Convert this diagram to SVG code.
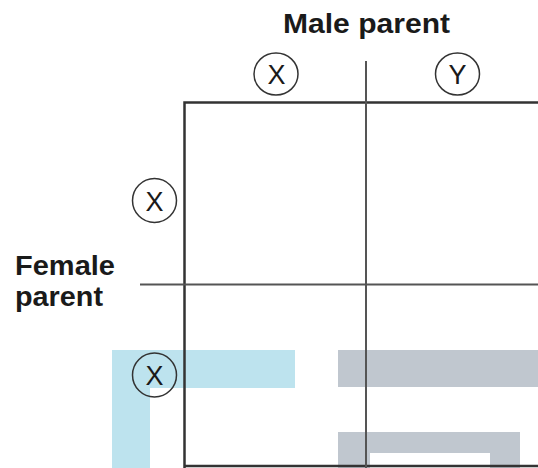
<svg xmlns="http://www.w3.org/2000/svg" width="538" height="468" viewBox="0 0 538 468">
<style>
.lbl{font-family:"Liberation Sans",Arial,sans-serif;font-weight:bold;font-size:27px;fill:#1a1a1a}
.al{font-family:"Liberation Sans",Arial,sans-serif;font-size:27px;fill:#1a1a1a;text-anchor:middle}
.ring{fill:none;stroke:#333;stroke-width:1.5}
.grid{stroke:#333;stroke-width:2.5;fill:none}
.thin{stroke:#555;stroke-width:2;fill:none}
</style>
<rect width="538" height="468" fill="#fff"/>
<g id="bands">
<path d="M112 350H295V388H150V468H112Z" fill="#bde3ee"/>
<rect x="338" y="350" width="200" height="37" fill="#c0c7cf"/>
<path d="M338 432H520V468H490V453H370V468H338Z" fill="#c0c7cf"/>
</g>
<g id="connectors">
<path class="grid" d="M184.5 468V102.5H538"/>
<line class="grid" x1="184" y1="466" x2="538" y2="466"/>
<line class="thin" x1="366" y1="61" x2="366" y2="468"/>
<line class="thin" x1="140" y1="284.5" x2="538" y2="284.5"/>
</g>
<g id="male-label"><text class="lbl" x="283" y="33" textLength="167" lengthAdjust="spacingAndGlyphs">Male parent</text></g>
<g id="female-label">
<text class="lbl" x="15" y="275" textLength="100" lengthAdjust="spacingAndGlyphs">Female</text>
<text class="lbl" x="15" y="306" textLength="88" lengthAdjust="spacingAndGlyphs">parent</text>
</g>
<g id="male-x"><ellipse class="ring" cx="276" cy="74" rx="22" ry="21"/><text class="al" x="276.5" y="84">X</text></g>
<g id="male-y"><ellipse class="ring" cx="457.5" cy="74" rx="22" ry="21"/><text class="al" x="457.5" y="84">Y</text></g>
<g id="female-x1"><ellipse class="ring" cx="154.5" cy="200.5" rx="22" ry="22"/><text class="al" x="154.5" y="210.5">X</text></g>
<g id="female-x2"><ellipse class="ring" cx="154.5" cy="375" rx="22" ry="22"/><text class="al" x="154.5" y="385">X</text></g>
</svg>
